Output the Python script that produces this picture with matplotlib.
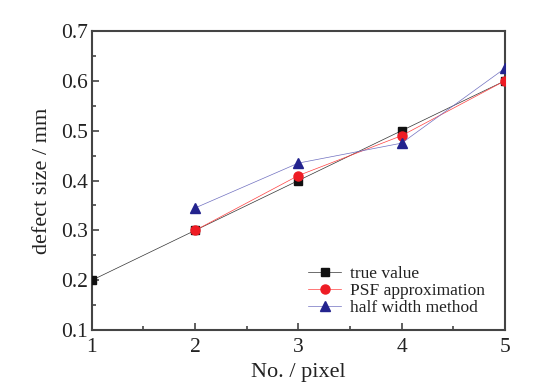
import matplotlib
matplotlib.use("Agg")
import matplotlib.pyplot as plt

x_true = [1, 2, 3, 4, 5]
y_true = [0.2, 0.3, 0.4, 0.5, 0.6]
x_psf = [2, 3, 4, 5]
y_psf = [0.30, 0.41, 0.49, 0.60]
x_half = [2, 3, 4, 5]
y_half = [0.345, 0.435, 0.475, 0.625]
labels = ["true value", "PSF approximation", "half width method"]

plt.rcParams['font.family'] = ['Liberation Serif', 'DejaVu Serif']

fig = plt.figure(figsize=(5.5, 3.87), dpi=100)
ax = fig.add_axes([0.167, 0.147, 0.751, 0.773])

ax.plot(x_true, y_true, color='#333333', lw=0.5, marker='s', ms=6, mfc='#111111', mec='#111111', label=labels[0], zorder=3)
ax.plot(x_psf, y_psf, color='#ff4040', lw=0.5, marker='o', ms=6.5, mfc='#ee1c24', mec='#ee1c24', label=labels[1], zorder=4)
ax.plot(x_half, y_half, color='#7070c0', lw=0.5, marker='^', ms=7, mfc='#23238e', mec='#23238e', label=labels[2], zorder=5)

ax.set_xlim(1, 5)
ax.set_ylim(0.1, 0.7)
ax.set_xticks([1, 2, 3, 4, 5])
ax.set_yticks([0.1, 0.2, 0.3, 0.4, 0.5, 0.6, 0.7])
ax.set_xticks([1.5, 2.5, 3.5, 4.5], minor=True)
ax.set_yticks([0.15, 0.25, 0.35, 0.45, 0.55, 0.65], minor=True)
ax.set_xticklabels(['1', '2', '3', '4', '5'])
ax.set_yticklabels(['0.1', '0.2', '0.3', '0.4', '0.5', '0.6', '0.7'])
ax.tick_params(axis='both', which='major', direction='in', length=5, width=1.2, colors='#444444', labelcolor='#222222', labelsize=15.5)
ax.tick_params(axis='x', which='major', pad=6)
ax.tick_params(axis='y', which='major', pad=3)
ax.tick_params(axis='both', which='minor', direction='in', length=3, width=1.2, colors='#444444')
for s in ax.spines.values():
    s.set_color('#444444')
    s.set_linewidth(1.5)

ax.set_xlabel('No. / pixel', fontsize=16, color='#222222', labelpad=4)
ax.set_ylabel('defect size / mm', fontsize=16, color='#222222', labelpad=6)

leg = ax.legend(loc='lower left', bbox_to_anchor=(0.515, 0.035), frameon=False, fontsize=12.5,
                handlelength=1.9, handletextpad=0.5, labelspacing=0.05, borderpad=0.2, borderaxespad=0.0)
for t in leg.get_texts():
    t.set_color('#222222')

fig.savefig('out.png', dpi=100)
